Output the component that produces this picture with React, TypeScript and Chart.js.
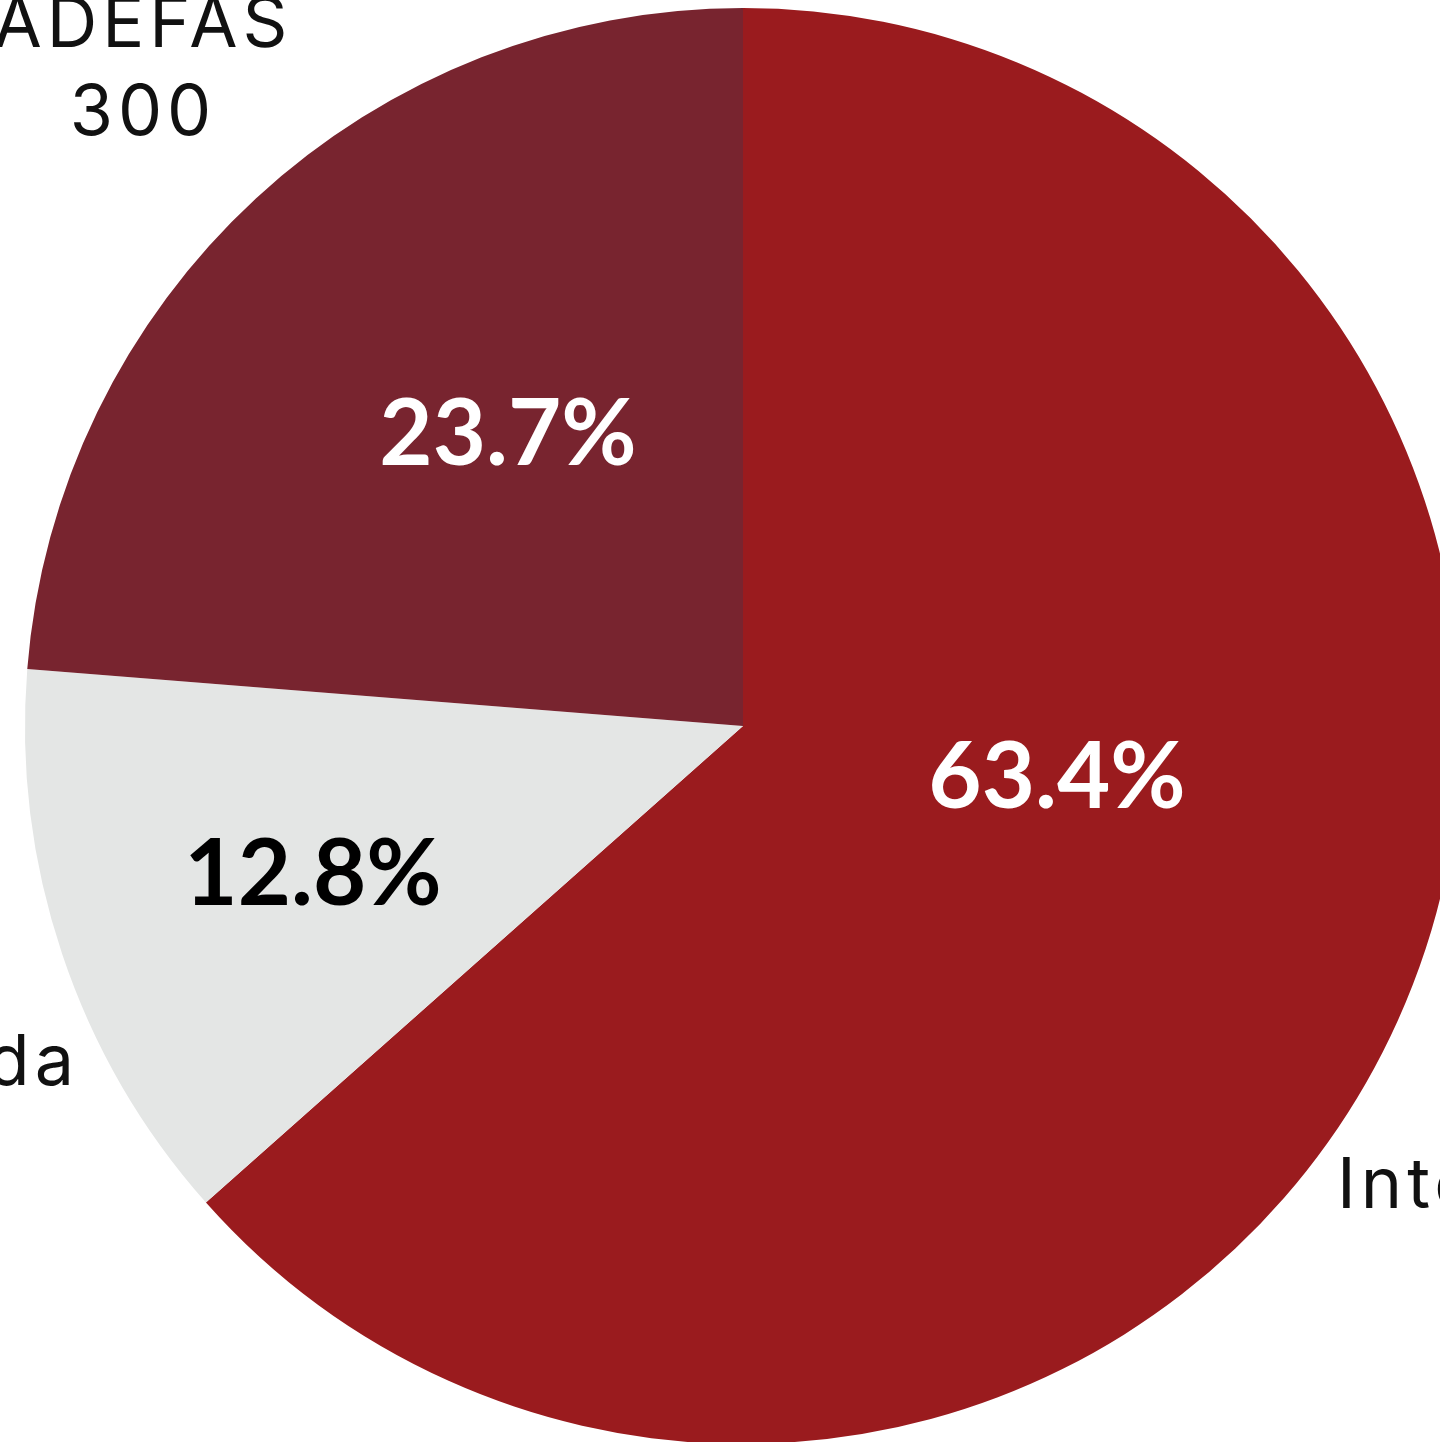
import React, { useEffect, useRef } from "react";
import { Chart, registerables } from "chart.js";

Chart.register(...registerables);

const categories = ["Internacional", "Otra deuda", "ADEFAS"];
const values = [802, 162, 300];
const percentLabels = ["63.4%", "12.8%", "23.7%"];

const colors = ["#9A1B1E", "#E4E6E5", "#78242F"];
const pctColors = ["#FFFFFF", "#000000", "#FFFFFF"];
// offsets of percentage text (center x, baseline y) relative to pie center
const pctOffsets = [
  { dx: 314, dy: 82 },
  { dx: -430, dy: 179 },
  { dx: -235, dy: -261 },
];
// outside label anchors relative to pie center: align + baseline of first line
const outOffsets = [
  { dx: 594, dy: 482, align: "left" },
  { dx: -664, dy: 359, align: "right" },
  { dx: -600, dy: -679, align: "center" },
];

const SIZE = 2000;
const CX = 743;
const CY = 726;
const RADIUS = 718;

const labelPlugin = {
  id: "pieLabels",
  afterDraw(chart: any) {
    const ctx = chart.ctx as any;
    const meta = chart.getDatasetMeta(0);
    const arc0 = meta.data[0];
    const cx = arc0.x;
    const cy = arc0.y;
    ctx.save();
    // percentages
    ctx.font = "bold 92px Lato, 'Noto Sans', sans-serif";
    ctx.textAlign = "center";
    ctx.textBaseline = "alphabetic";
    percentLabels.forEach((t, i) => {
      ctx.fillStyle = pctColors[i];
      ctx.fillText(t, cx + pctOffsets[i].dx, cy + pctOffsets[i].dy);
    });
    // outside labels: name, value below
    ctx.font = "400 70px Inter, sans-serif";
    ctx.letterSpacing = "5px";
    ctx.fillStyle = "#111111";
    categories.forEach((name, i) => {
      const o = outOffsets[i];
      const w = ctx.measureText(name).width;
      let centerX = cx + o.dx;
      if (o.align === "left") centerX = cx + o.dx + w / 2;
      if (o.align === "right") centerX = cx + o.dx - w / 2;
      ctx.textAlign = "center";
      ctx.fillText(name, centerX, cy + o.dy);
      ctx.fillText(String(values[i]), centerX, cy + o.dy + 88);
    });
    ctx.restore();
  },
};

export default function App() {
  const ref = useRef<HTMLCanvasElement | null>(null);
  useEffect(() => {
    if (!ref.current) return;
    const chart = new Chart(ref.current, {
      type: "pie",
      data: {
        labels: categories,
        datasets: [
          {
            data: values,
            backgroundColor: colors,
            borderWidth: 0,
            radius: RADIUS,
          },
        ],
      },
      options: {
        responsive: false,
        animation: false,
        devicePixelRatio: 1,
        layout: { padding: 0 },
        plugins: {
          legend: { display: false },
          tooltip: { enabled: false },
          title: { display: false },
        },
      },
      plugins: [labelPlugin],
    });
    return () => chart.destroy();
  }, []);
  return (
    <div
      style={{
        position: "fixed",
        left: 0,
        top: 0,
        width: 1440,
        height: 1442,
        overflow: "hidden",
        background: "#fff",
      }}
    >
      <canvas
        ref={ref}
        width={SIZE}
        height={SIZE}
        style={{
          position: "absolute",
          left: CX - SIZE / 2,
          top: CY - SIZE / 2,
          width: SIZE,
          height: SIZE,
        }}
      />
    </div>
  );
}
